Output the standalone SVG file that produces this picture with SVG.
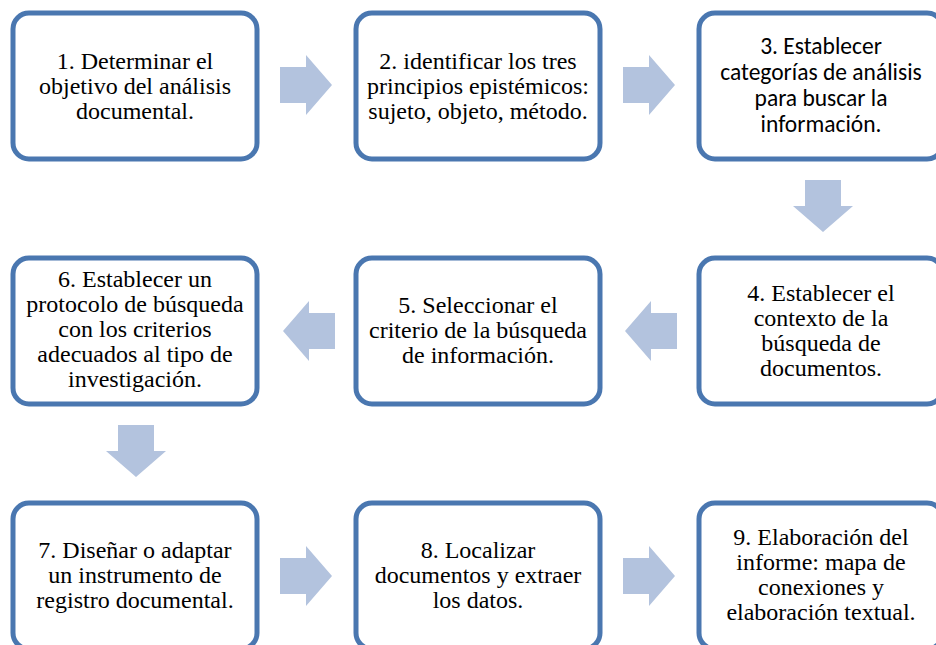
<svg xmlns="http://www.w3.org/2000/svg" width="936" height="645" viewBox="0 0 936 645">
<defs>
<path id="ar" d="M0,-18 H26 V-30 L52,0 L26,30 V18 H0 Z"/>
</defs>
<rect width="936" height="645" fill="#ffffff"/>
<g id="connectors" fill="#b3c3de">
<use href="#ar" transform="translate(280,85)"/>
<use href="#ar" transform="translate(623,85)"/>
<use href="#ar" transform="translate(823,180) rotate(90)"/>
<use href="#ar" transform="translate(677,331) rotate(180)"/>
<use href="#ar" transform="translate(335,331) rotate(180)"/>
<use href="#ar" transform="translate(136,425) rotate(90)"/>
<use href="#ar" transform="translate(280,576)"/>
<use href="#ar" transform="translate(623,576)"/>
</g>
<g fill="#ffffff" stroke="#4a77b0" stroke-width="5">
<g id="n1"><rect x="13" y="13" width="244" height="146" rx="16"/></g>
<g id="n2"><rect x="356" y="13" width="244" height="146" rx="16"/></g>
<g id="n3"><rect x="699" y="13" width="244" height="146" rx="16"/></g>
<g id="n4"><rect x="699" y="258" width="244" height="146" rx="16"/></g>
<g id="n5"><rect x="356" y="258" width="244" height="146" rx="16"/></g>
<g id="n6"><rect x="13" y="258" width="244" height="146" rx="16"/></g>
<g id="n7"><rect x="13" y="503" width="244" height="146" rx="16"/></g>
<g id="n8"><rect x="356" y="503" width="244" height="146" rx="16"/></g>
<g id="n9"><rect x="699" y="503" width="244" height="146" rx="16"/></g>
</g>
<g id="labels" fill="#000000" text-anchor="middle">
<text id="n1-label" font-family="Liberation Serif" font-size="24"><tspan x="135" y="69">1. Determinar el</tspan><tspan x="135" y="94">objetivo del análisis</tspan><tspan x="135" y="119">documental.</tspan></text>
<text id="n2-label" font-family="Liberation Serif" font-size="24"><tspan x="478" y="69">2. identificar los tres</tspan><tspan x="478" y="94">principios epistémicos:</tspan><tspan x="478" y="119">sujeto, objeto, método.</tspan></text>
<text id="n3-label" font-family="Carlito" font-size="23.5"><tspan x="821" y="54">3. Establecer</tspan><tspan x="821" y="80">categorías de análisis</tspan><tspan x="821" y="106">para buscar la</tspan><tspan x="821" y="132">información.</tspan></text>
<text id="n4-label" font-family="Liberation Serif" font-size="24"><tspan x="821" y="301">4. Establecer el</tspan><tspan x="821" y="326">contexto de la</tspan><tspan x="821" y="351">búsqueda de</tspan><tspan x="821" y="376">documentos.</tspan></text>
<text id="n5-label" font-family="Liberation Serif" font-size="24"><tspan x="478" y="313">5. Seleccionar el</tspan><tspan x="478" y="338">criterio de la búsqueda</tspan><tspan x="478" y="363">de información.</tspan></text>
<text id="n6-label" font-family="Liberation Serif" font-size="24"><tspan x="135" y="287">6. Establecer un</tspan><tspan x="135" y="312">protocolo de búsqueda</tspan><tspan x="135" y="337">con los criterios</tspan><tspan x="135" y="362">adecuados al tipo de</tspan><tspan x="135" y="387">investigación.</tspan></text>
<text id="n7-label" font-family="Liberation Serif" font-size="24"><tspan x="135" y="558">7. Diseñar o adaptar</tspan><tspan x="135" y="583">un instrumento de</tspan><tspan x="135" y="608">registro documental.</tspan></text>
<text id="n8-label" font-family="Liberation Serif" font-size="24"><tspan x="478" y="558">8. Localizar</tspan><tspan x="478" y="583">documentos y extraer</tspan><tspan x="478" y="608">los datos.</tspan></text>
<text id="n9-label" font-family="Liberation Serif" font-size="24"><tspan x="821" y="545">9. Elaboración del</tspan><tspan x="821" y="570">informe: mapa de</tspan><tspan x="821" y="595">conexiones y</tspan><tspan x="821" y="620">elaboración textual.</tspan></text>
</g>
</svg>
